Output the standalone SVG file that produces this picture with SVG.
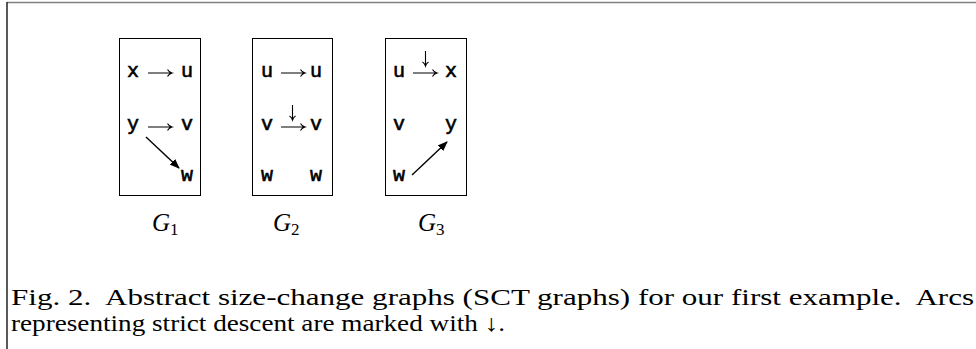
<svg xmlns="http://www.w3.org/2000/svg" width="976" height="349" viewBox="0 0 976 349">
<style>
.tt{font-family:"Liberation Mono","Courier New",monospace;font-size:20px;fill:#000;stroke:#000;stroke-width:0.6;text-anchor:middle}
.box{fill:#fff;stroke:#000;stroke-width:1}
.lbl{font-family:"Liberation Serif","Times New Roman",serif;font-size:25px;font-style:italic;fill:#000}
.sub{font-family:"Liberation Serif","Times New Roman",serif;font-size:17px;font-style:normal}
.cap{font-family:"Liberation Serif","Times New Roman",serif;font-size:23px;fill:#000;white-space:pre}
.arr{fill:none;stroke:#000;stroke-width:1.1}
.diag{fill:none;stroke:#000;stroke-width:1.4}
</style>
<defs>
<marker id="tri" markerWidth="10" markerHeight="8" refX="9" refY="4" orient="auto" markerUnits="userSpaceOnUse">
<path d="M0,0 L10,4 L0,8 Z" fill="#000"/>
</marker>
<path id="lar" d="M0,0 H24 M19.5,-3.5 Q21,-0.8 24,0 Q21,0.8 19.5,3.5" class="arr"/>
<path id="dar" d="M0,0 V15 M-3,11 Q-0.7,12.5 0,15 Q0.7,12.5 3,11" class="arr"/>
</defs>
<rect width="976" height="349" fill="#fff"/>
<line x1="7" y1="2.5" x2="976" y2="2.5" stroke="#808080" stroke-width="1.5"/>
<line x1="7" y1="2" x2="7" y2="349" stroke="#222" stroke-width="1.5"/>

<g id="G1">
<rect class="box" x="119.5" y="38.5" width="81" height="157"/>
<text class="tt" x="133" y="77">x</text>
<text class="tt" x="187" y="77">u</text>
<text class="tt" x="133" y="130">y</text>
<text class="tt" x="187" y="130">v</text>
<text class="tt" x="187" y="181">w</text>
<text class="lbl" x="152" y="231">G<tspan class="sub" dy="4">1</tspan></text>
</g>
<g id="G2">
<rect class="box" x="252.5" y="38.5" width="80" height="157"/>
<text class="tt" x="267" y="77">u</text>
<text class="tt" x="316" y="77">u</text>
<text class="tt" x="267" y="130">v</text>
<text class="tt" x="316" y="130">v</text>
<text class="tt" x="267" y="181">w</text>
<text class="tt" x="316" y="181">w</text>
<text class="lbl" x="273" y="231">G<tspan class="sub" dy="4">2</tspan></text>
</g>
<g id="G3">
<rect class="box" x="385.5" y="38.5" width="81" height="157"/>
<text class="tt" x="399" y="77">u</text>
<text class="tt" x="451" y="77">x</text>
<text class="tt" x="399" y="130">v</text>
<text class="tt" x="451" y="130">y</text>
<text class="tt" x="399" y="181">w</text>
<text class="lbl" x="418" y="231">G<tspan class="sub" dy="4">3</tspan></text>
</g>

<g id="connectors">
<use href="#lar" x="148" y="73"/>
<use href="#lar" x="148" y="127"/>
<use href="#lar" x="281" y="73"/>
<use href="#lar" x="281" y="127"/>
<use href="#dar" x="292.5" y="105"/>
<use href="#lar" x="413" y="73"/>
<use href="#dar" x="425.5" y="51"/>
<line class="diag" x1="146" y1="137" x2="179" y2="168" marker-end="url(#tri)"/>
<line class="diag" x1="412" y1="175" x2="447" y2="142" marker-end="url(#tri)"/>
</g>

<g id="caption">
<text class="cap" x="11" y="305" textLength="963" lengthAdjust="spacingAndGlyphs" xml:space="preserve">Fig. 2.  Abstract size-change graphs (SCT graphs) for our first example.  Arcs</text>
<text class="cap" x="11" y="331" textLength="494" lengthAdjust="spacingAndGlyphs">representing strict descent are marked with ↓.</text>
</g>
</svg>
